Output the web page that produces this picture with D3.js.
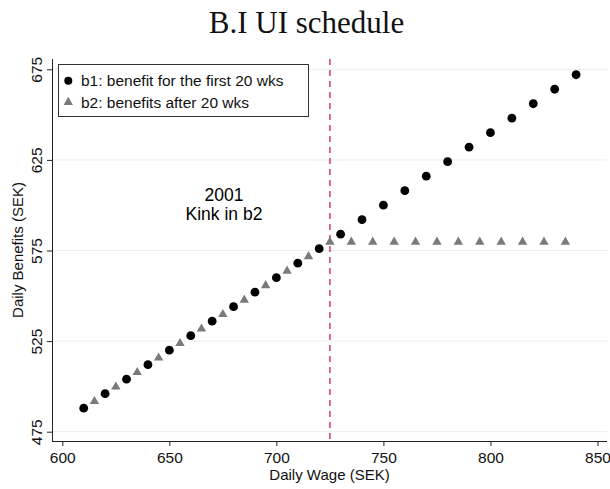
<!DOCTYPE html>
<html lang="en">
<head>
<meta charset="UTF-8">
<title>B.I UI schedule</title>
<style type="text/css">
	body { margin: 0; background: #fff; font-family: "Liberation Sans", Arial, sans-serif; }
	.axis text { font-size: 15.5px; fill: #111; font-family: "Liberation Sans", Arial, sans-serif; }
	.axis path, .axis line { fill: none; stroke: #222; stroke-width: 1px; }
	.grid line { stroke: #e8efef; stroke-width: 1px; }
	.label { font-size: 15px; fill: #111; }
	.legend text { font-size: 15.5px; fill: #111; }
</style>
<script src="https://cdn.jsdelivr.net/npm/d3@7/dist/d3.min.js"></script>
</head>
<body>
<script type="text/javascript">

// b1: benefit for the first 20 weeks
var b1Wage = [610, 620, 630, 640, 650, 660, 670, 680, 690, 700, 710, 720,
	730, 740, 750, 760, 770, 780, 790, 800, 810, 820, 830, 840];
var b1Benefit = [488, 496, 504, 512, 520, 528, 536, 544, 552, 560, 568, 576,
	584, 592, 600, 608, 616, 624, 632, 640, 648, 656, 664, 672];

// b2: benefits after 20 weeks
var b2Wage = [615, 625, 635, 645, 655, 665, 675, 685, 695, 705, 715, 725,
	735, 745, 755, 765, 775, 785, 795, 805, 815, 825, 835];
var b2Benefit = [492, 500, 508, 516, 524, 532, 540, 548, 556, 564, 572, 580,
	580, 580, 580, 580, 580, 580, 580, 580, 580, 580, 580];

var xTicks = [600, 650, 700, 750, 800, 850];
var yTicks = [475, 525, 575, 625, 675];
var kinkWage = 725;
var legendLabels = ['b1: benefit for the first 20 wks', 'b2: benefits after 20 wks'];

var width = 610, height = 489;
var m = { left: 52, right: 607, top: 59, bottom: 441 };

var svg = d3.select('body').append('svg')
	.attr('width', width)
	.attr('height', height);

var xScale = d3.scaleLinear().domain([600, 850]).range([62.3, 597.5]);
var yScale = d3.scaleLinear().domain([475, 675]).range([431.7, 69.3]);

// grid
svg.append('g').attr('class', 'grid')
	.selectAll('line').data(yTicks).enter().append('line')
	.attr('x1', m.left).attr('x2', m.right)
	.attr('y1', d => yScale(d)).attr('y2', d => yScale(d));

// axes
var xAxis = d3.axisBottom(xScale).tickValues(xTicks).tickSize(5).tickPadding(6);
var yAxis = d3.axisLeft(yScale).tickValues(yTicks).tickSize(5);

var gx = svg.append('g')
	.attr('class', 'x axis')
	.attr('transform', 'translate(0,' + m.bottom + ')')
	.call(xAxis);
gx.select('.domain').attr('d', 'M' + m.left + ',0.5H' + m.right);

var gy = svg.append('g')
	.attr('class', 'y axis')
	.attr('transform', 'translate(' + m.left + ',0)')
	.call(yAxis);
gy.select('.domain').attr('d', 'M0.5,' + m.top + 'V' + m.bottom);
gy.selectAll('.tick text')
	.attr('transform', 'rotate(-90)')
	.attr('x', 0).attr('y', -10)
	.attr('dy', 0)
	.style('text-anchor', 'middle');

// kink line
svg.append('line')
	.attr('x1', xScale(kinkWage)).attr('x2', xScale(kinkWage))
	.attr('y1', m.top).attr('y2', m.bottom)
	.attr('stroke', '#d5466f')
	.attr('stroke-width', 1.6)
	.attr('stroke-dasharray', '6,5');

// b2 triangles
var tri = d3.symbol().type(d3.symbolTriangle).size(38);
svg.append('g').selectAll('path')
	.data(b2Wage).enter().append('path')
	.attr('d', tri)
	.attr('transform', (d, i) => 'translate(' + xScale(d) + ',' + (yScale(b2Benefit[i]) + 0.5) + ')')
	.attr('fill', '#7a7a7a');

// b1 dots
svg.append('g').selectAll('circle')
	.data(b1Wage).enter().append('circle')
	.attr('cx', d => xScale(d))
	.attr('cy', (d, i) => yScale(b1Benefit[i]))
	.attr('r', 4.4)
	.attr('fill', '#000');

// annotation
svg.append('text').attr('x', 224).attr('y', 201)
	.attr('text-anchor', 'middle').style('font-size', '17.5px').text('2001');
svg.append('text').attr('x', 224).attr('y', 220)
	.attr('text-anchor', 'middle').style('font-size', '17.5px').text('Kink in b2');

// legend
var legend = svg.append('g').attr('class', 'legend');
legend.append('rect')
	.attr('x', 58.5).attr('y', 64.5)
	.attr('width', 250).attr('height', 52)
	.attr('fill', '#fff').attr('stroke', '#333').attr('stroke-width', 1);
legend.append('circle').attr('cx', 68.3).attr('cy', 80.7).attr('r', 4).attr('fill', '#000');
legend.append('path').attr('d', tri)
	.attr('transform', 'translate(68.3,102.2)').attr('fill', '#7a7a7a');
legend.selectAll('text.item').data(legendLabels).enter().append('text')
	.attr('class', 'item')
	.attr('x', 81)
	.attr('y', (d, i) => 86 + i * 22)
	.text(d => d);

// labels
svg.append('text').attr('class', 'label')
	.attr('x', (m.left + m.right) / 2).attr('y', 480)
	.attr('text-anchor', 'middle').text('Daily Wage (SEK)');
svg.append('text').attr('class', 'label')
	.attr('transform', 'translate(23,' + (m.top + m.bottom) / 2 + ') rotate(-90)')
	.attr('text-anchor', 'middle').text('Daily Benefits (SEK)');

// title
svg.append('text')
	.attr('x', 306.5).attr('y', 33)
	.attr('text-anchor', 'middle')
	.style('font-family', '"Liberation Serif", "DejaVu Serif", serif')
	.style('font-size', '31px')
	.style('fill', '#111')
	.text('B.I UI schedule');

</script>
</body>
</html>
